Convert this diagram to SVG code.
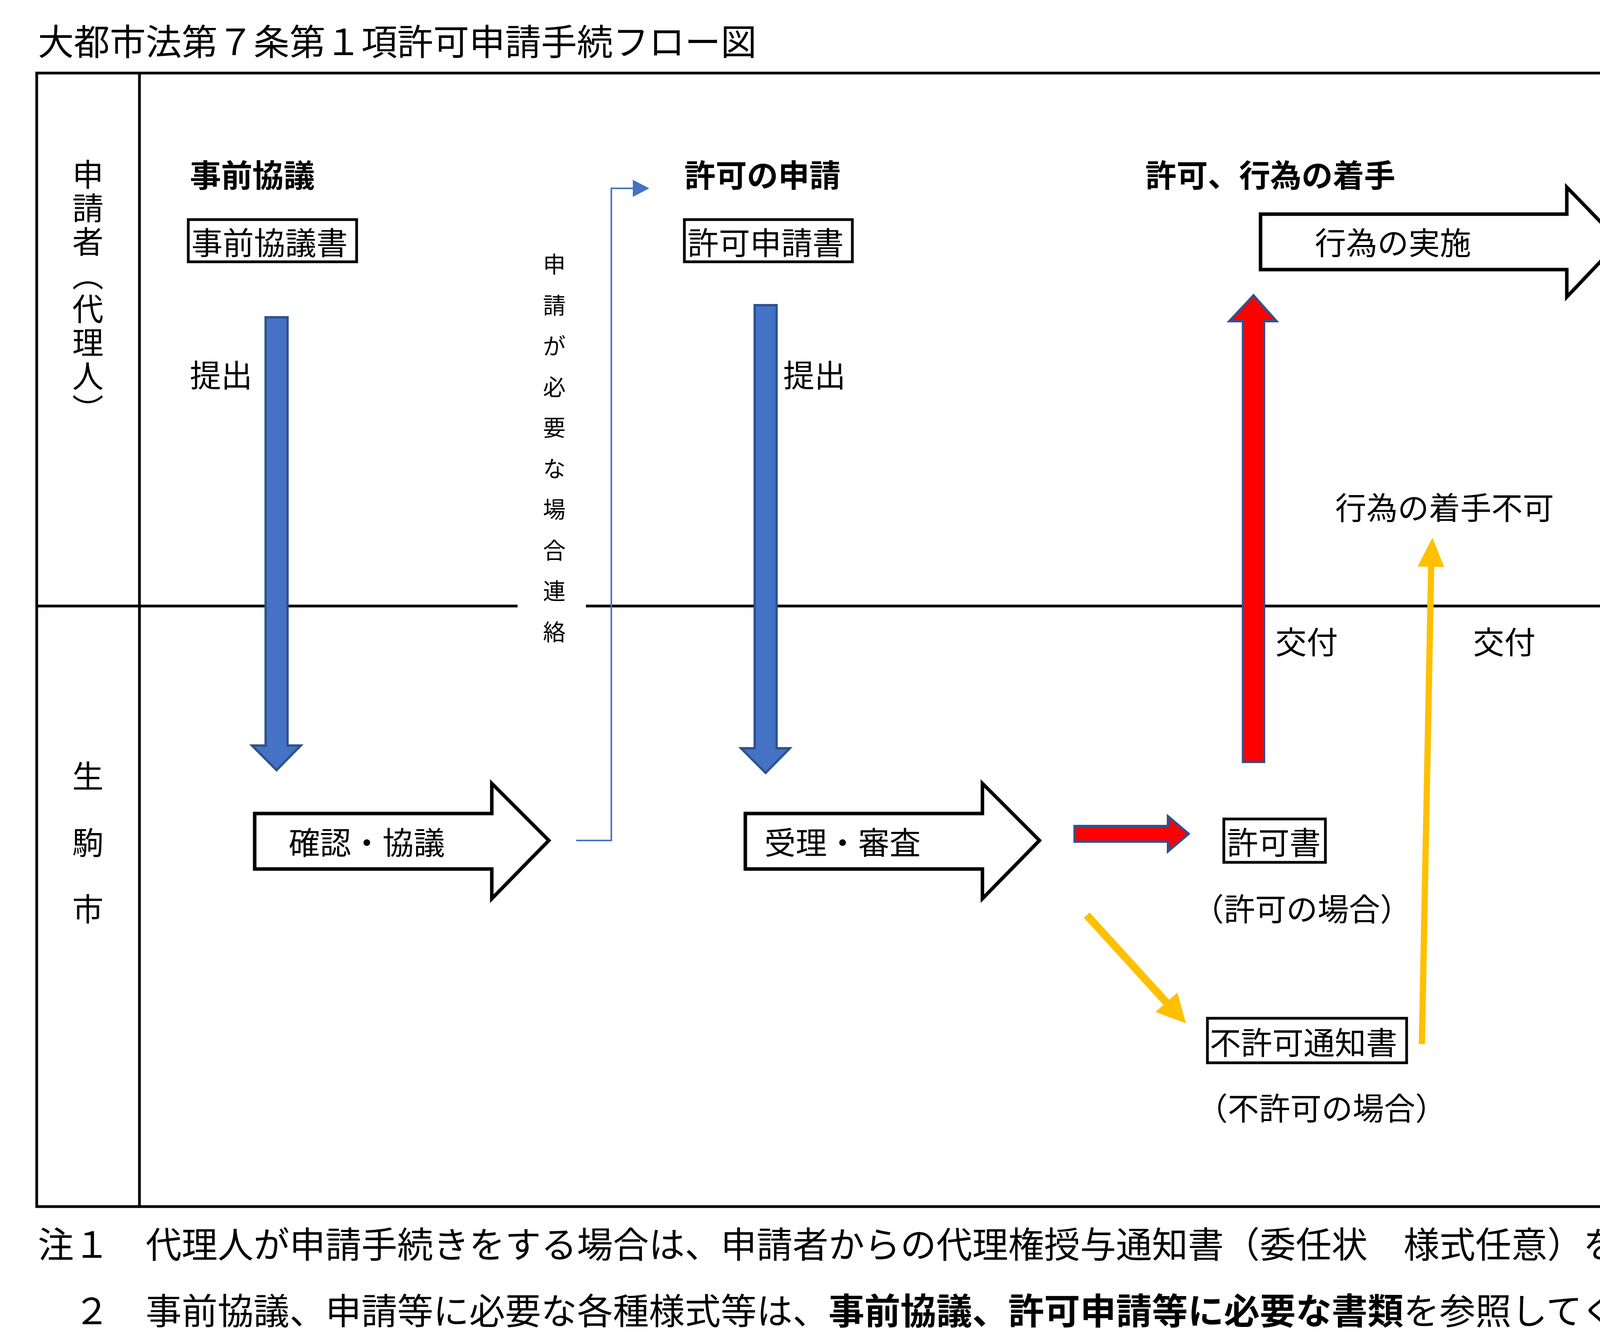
<svg xmlns="http://www.w3.org/2000/svg" width="5412" height="3432" viewBox="0 0 5412 3432">
<style>
text{font-family:"Noto Sans CJK JP","Noto Sans CJK SC",sans-serif;fill:#000;dominant-baseline:central}
.t{font-size:92px}
.h{font-size:80px;font-weight:bold}
.l{font-size:80px}
.s{font-size:58px}
.box{fill:#fff;stroke:#000;stroke-width:7}
.blk{fill:#fff;stroke:#000;stroke-width:9}
.blue{fill:#4472C4;stroke:#2F528F;stroke-width:6}
.red{fill:#FF0000;stroke:#2F528F;stroke-width:6}
.frame{fill:none;stroke:#000;stroke-width:7}
</style>
<rect width="5412" height="3432" fill="#fff"/>
<text class="t" x="97" y="100">大都市法第７条第１項許可申請手続フロー図</text>
<g id="frame">
<rect class="frame" x="94" y="187" width="5270" height="2901"/>
<line class="frame" x1="357" y1="187" x2="357" y2="3088"/>
<line class="frame" x1="94" y1="1551" x2="1325" y2="1551"/>
<line class="frame" x1="1500" y1="1551" x2="5364" y2="1551"/>
</g>
<g id="lane-applicant"><text class="l" x="225" y="406" style="writing-mode:vertical-rl;letter-spacing:6px">申請者（代理人）</text></g>
<g id="lane-city">
<text class="l" x="225" y="1981" text-anchor="middle">生</text>
<text class="l" x="225" y="2151" text-anchor="middle">駒</text>
<text class="l" x="225" y="2321" text-anchor="middle">市</text>
</g>
<g id="headers">
<text class="h" x="486" y="443">事前協議</text>
<text class="h" x="1752" y="443">許可の申請</text>
<text class="h" x="2932" y="443">許可、行為の着手</text>
<text class="h" x="4406" y="443">行為の完了</text>
</g>
<g id="connectors">
<path class="blue" d="M680 812H736V1908H770L708 1971L645 1908H680Z"/>
<path class="blue" d="M1932 781H1988V1915H2022L1960 1978L1897 1915H1932Z"/>
<path class="blue" d="M4403 750H4459V1898H4493L4431 1957L4368 1898H4403Z"/>
<path class="red" d="M3182 1950V822H3147L3209 756L3268 822H3236V1950Z"/>
<path class="red" d="M2751 2114H2990V2089L3043 2134L2990 2179V2154H2751Z"/>
<polyline points="1475,2151 1565,2151 1565,482 1620,482" fill="none" stroke="#4472C4" stroke-width="4"/>
<path d="M1620 460L1662 482L1620 504Z" fill="#4472C4"/>
<line x1="2782" y1="2342" x2="2990" y2="2570" stroke="#FFC000" stroke-width="20"/>
<path d="M2958 2590L3036 2619L3014 2540Z" fill="#FFC000"/>
<line x1="3640" y1="2672" x2="3664" y2="1440" stroke="#FFC000" stroke-width="16"/>
<path d="M3629 1450L3667 1376L3697 1451Z" fill="#FFC000"/>
</g>
<g id="renraku">
<text class="s" x="1419" y="673" text-anchor="middle">申</text>
<text class="s" x="1419" y="778" text-anchor="middle">請</text>
<text class="s" x="1419" y="882" text-anchor="middle">が</text>
<text class="s" x="1419" y="987" text-anchor="middle">必</text>
<text class="s" x="1419" y="1091" text-anchor="middle">要</text>
<text class="s" x="1419" y="1196" text-anchor="middle">な</text>
<text class="s" x="1419" y="1300" text-anchor="middle">場</text>
<text class="s" x="1419" y="1405" text-anchor="middle">合</text>
<text class="s" x="1419" y="1509" text-anchor="middle">連</text>
<text class="s" x="1419" y="1614" text-anchor="middle">絡</text>
</g>
<g id="labels">
<text class="l" x="486" y="955">提出</text>
<text class="l" x="2005" y="955">提出</text>
<text class="l" x="4528" y="955">提出</text>
<text class="l" x="3265" y="1638">交付</text>
<text class="l" x="3771" y="1638">交付</text>
<text class="l" x="3418" y="1294">行為の着手不可</text>
<text class="l" x="3053" y="2321">（許可の場合）</text>
<text class="l" x="3063" y="2831">（不許可の場合）</text>
<text class="l" x="4326" y="2151">現地確認</text>
</g>
<g id="n-jizen"><rect class="box" x="482" y="562" width="431" height="108"/><text class="l" x="490" y="616">事前協議書</text></g>
<g id="n-kyoka-shinsei"><rect class="box" x="1752" y="562" width="430" height="108"/><text class="l" x="1760" y="616">許可申請書</text></g>
<g id="n-kanryo"><rect class="box" x="4202" y="557" width="513" height="118"/><text class="l" x="4208" y="616">行為の完了届</text></g>
<g id="n-kakunin"><path class="blk" d="M652 2082H1259V2005L1405 2151L1259 2300V2224H652Z"/><text class="l" x="739" y="2151">確認・協議</text></g>
<g id="n-juri"><path class="blk" d="M1908 2082H2515V2005L2661 2151L2515 2300V2224H1908Z"/><text class="l" x="1957" y="2151">受理・審査</text></g>
<g id="n-jisshi"><path class="blk" d="M3227 548H4011V479L4146 618L4011 760V690H3227Z"/><text class="l" x="3366" y="616">行為の実施</text></g>
<g id="n-kyokasho"><rect class="box" x="3133" y="2096" width="260" height="111"/><text class="l" x="3141" y="2151">許可書</text></g>
<g id="n-fukyoka"><rect class="box" x="3091" y="2606" width="510" height="114"/><text class="l" x="3097" y="2663">不許可通知書</text></g>
<g id="notes">
<text class="t" x="97" y="3178">注１　代理人が申請手続きをする場合は、申請者からの代理権授与通知書（委任状　様式任意）を添付してください。</text>
<text class="t" x="97" y="3348">　２　事前協議、申請等に必要な各種様式等は、<tspan font-weight="bold">事前協議、許可申請等に必要な書類</tspan>を参照してください。</text>
</g>
</svg>
